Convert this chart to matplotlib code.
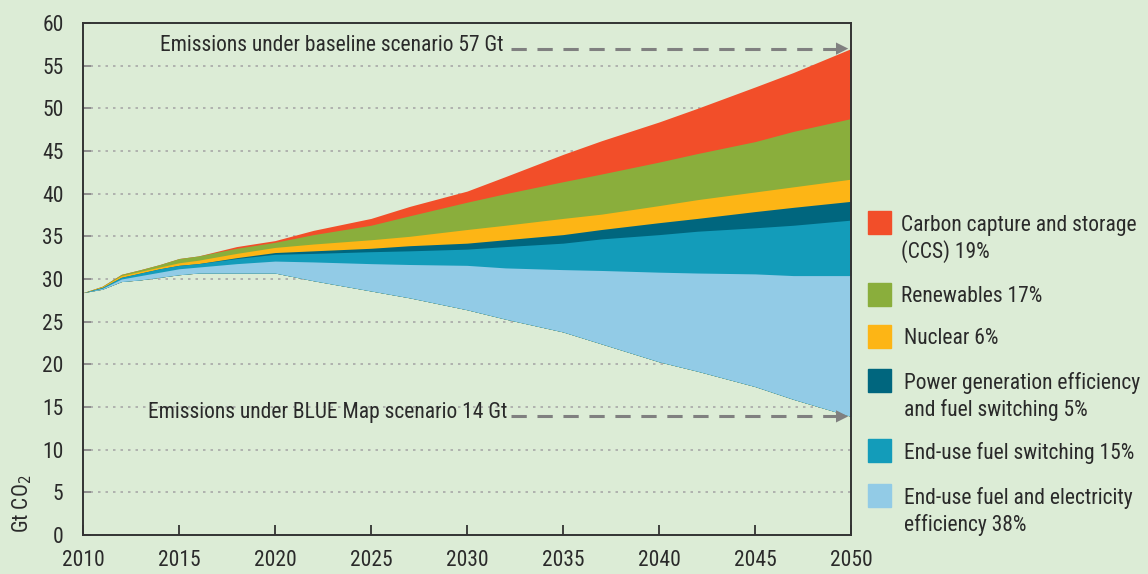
import numpy as np
import matplotlib
matplotlib.use("Agg")
import matplotlib.pyplot as plt
from matplotlib.patches import Rectangle

# Dados (Gt CO2)
years = [2010, 2011, 2012, 2013, 2014, 2015, 2016, 2018, 2020, 2022, 2025,
         2027, 2030, 2032, 2035, 2037, 2040, 2042, 2045, 2047, 2050]
blue_map = [28.4, 28.8, 29.7, 29.9, 30.2, 30.5, 30.7, 30.7, 30.7, 29.8, 28.6,
            27.8, 26.4, 25.3, 23.8, 22.4, 20.3, 19.2, 17.4, 15.9, 13.9]
end_use_eff = [0, 0.1, 0.3, 0.5, 0.6, 0.7, 0.7, 1.1, 1.4, 2.2, 3.2,
               3.9, 5.2, 6.0, 7.3, 8.6, 10.5, 11.5, 13.2, 14.5, 16.5]
end_use_fuel = [0, 0.1, 0.2, 0.3, 0.4, 0.4, 0.4, 0.6, 0.8, 1.0, 1.4,
                1.6, 1.9, 2.5, 3.1, 3.7, 4.4, 4.9, 5.4, 5.9, 6.5]
power_gen = [0, 0, 0, 0, 0, 0, 0, 0.1, 0.2, 0.3, 0.4,
             0.6, 0.7, 0.8, 1.0, 1.1, 1.4, 1.5, 1.9, 2.1, 2.2]
nuclear = [0, 0.1, 0.2, 0.2, 0.2, 0.3, 0.4, 0.5, 0.6, 0.8, 1.0,
           1.1, 1.6, 1.7, 1.9, 1.8, 2.0, 2.2, 2.3, 2.4, 2.6]
renewables = [0, 0.05, 0.15, 0.2, 0.3, 0.5, 0.5, 0.6, 0.6, 1.1, 1.7,
              2.4, 3.2, 3.7, 4.3, 4.7, 5.1, 5.4, 5.9, 6.5, 7.1]
ccs = [0, 0, 0, 0, 0, 0, 0, 0.2, 0.2, 0.5, 0.8,
       1.1, 1.3, 2.0, 3.2, 3.9, 4.7, 5.3, 6.4, 6.9, 8.2]

layers = [end_use_eff, end_use_fuel, power_gen, nuclear, renewables, ccs]
labels = ["End-use fuel and electricity\nefficiency 38%",
          "End-use fuel switching 15%",
          "Power generation efficiency\nand fuel switching 5%",
          "Nuclear 6%",
          "Renewables 17%",
          "Carbon capture and storage\n(CCS) 19%"]
colors = ["#92CBE6", "#139CBA", "#00667E", "#FDB515", "#8AAE3C", "#F24E29"]

bg = "#DCECD6"
txt = "#2a2a2a"
plt.rcParams["font.family"] = ["Liberation Sans Narrow", "Roboto Condensed",
                               "Roboto", "DejaVu Sans"]
plt.rcParams["font.stretch"] = "condensed"
FS = 15.5

W, H = 1148, 574
fig = plt.figure(figsize=(W / 100, H / 100), dpi=100, facecolor=bg)
ax = fig.add_axes([83 / W, 39 / H, (851 - 83) / W, (535 - 23) / H])
ax.set_facecolor(bg)

# Áreas empilhadas (pintadas de cima para baixo para evitar frestas)
x = np.array(years, dtype=float)
base = np.array(blue_map)
tops = base + np.cumsum(np.array(layers), axis=0)
for top, c in reversed(list(zip(tops, colors))):
    ax.fill_between(x, base, top, color=c, lw=0, zorder=2)

ax.set_xlim(2010, 2050)
ax.set_ylim(0, 60)
ax.set_xticks(range(2010, 2051, 5))
ax.set_yticks(range(0, 61, 5))
ax.tick_params(axis="x", direction="in", length=7, width=1.3, color="#333333",
               labelsize=FS, pad=11, labelcolor=txt)
ax.tick_params(axis="y", direction="in", length=6, width=1.3, color="#888888",
               labelsize=FS, pad=14, labelcolor=txt)
for ypos in range(5, 60, 5):
    ax.axhline(ypos, color="#A8A8A8", lw=1.2, ls=(0, (1.5, 3)), zorder=1)
for s in ax.spines.values():
    s.set_color("#333333")
    s.set_linewidth(1.4)
    s.set_zorder(5)

# Setas de referência (cenário base e BLUE Map)
total = tops[-1][-1]
blue_end = base[-1]
arrow_c = "#808080"
for yv, label, xt in [(total, "Emissions under baseline scenario 57 Gt", 2014.0),
                      (blue_end, "Emissions under BLUE Map scenario 14 Gt", 2013.4)]:
    ax.plot([2032.3, 2049.4], [yv, yv], color=arrow_c, lw=2.2,
            ls=(0, (5, 3.5)), zorder=6, clip_on=False)
    ax.annotate("", xy=(2050, yv), xytext=(2049.2, yv),
                arrowprops=dict(arrowstyle="-|>", color=arrow_c, lw=0,
                                mutation_scale=22), zorder=6,
                annotation_clip=False)
    ax.text(xt, yv + 0.4, label, fontsize=FS, color=txt, va="center",
            ha="left", zorder=7)

fig.text(22 / W, (574 - 533) / H, "Gt CO$_2$", rotation=90, fontsize=FS,
         color=txt, ha="center", va="bottom")

# Legenda desenhada manualmente
patch_y = [495, 450, 380, 336, 294, 222]
text_x = [904, 904, 904, 904, 901, 901]
for lab, c, py, tx in zip(labels, colors, patch_y, text_x):
    fig.add_artist(Rectangle((868 / W, (H - py - 11.5) / H), 23 / W, 23 / H,
                             color=c, transform=fig.transFigure))
    for i, line in enumerate(lab.split("\n")):
        fig.text(tx / W, (H - (py + 3 + i * 27)) / H, line, fontsize=FS,
                 color=txt, ha="left", va="center")

fig.savefig("out.png", dpi=100, facecolor=bg)
